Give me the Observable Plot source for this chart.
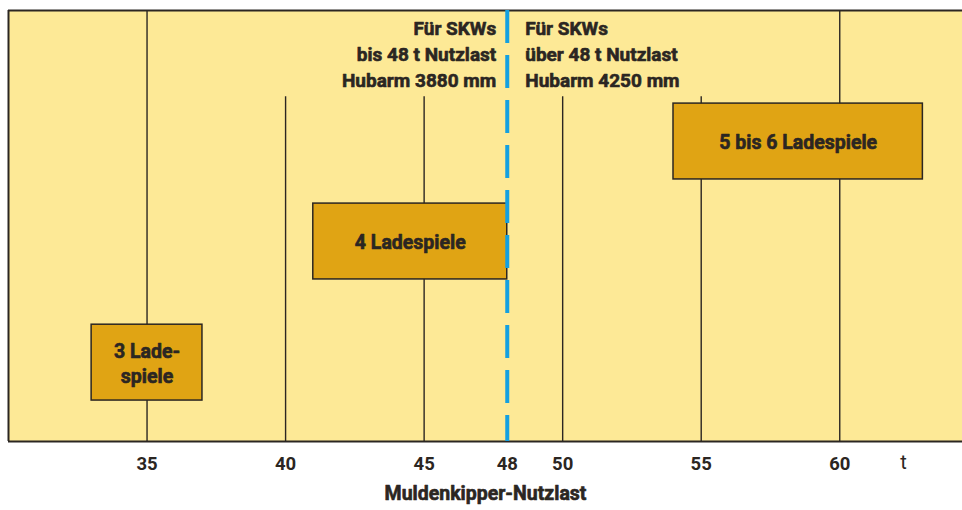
<!DOCTYPE html>
<html>
<head>
<meta charset="utf-8">
<script src="https://cdn.jsdelivr.net/npm/d3@7"></script>
<script src="https://cdn.jsdelivr.net/npm/@observablehq/plot@0.6"></script>
<style>
  html, body { margin: 0; padding: 0; background: #ffffff; }
  #chart svg { display: block; }
</style>
</head>
<body>
<div id="chart"></div>
<script>
// ---- data ----
const tickValues = [35, 40, 45, 48, 50, 55, 60];
const fullGridLines = [35, 60];
const shortGridLines = [40, 45, 50, 55];
const boxLabels = ["3 Lade-\nspiele", "4 Ladespiele", "5 bis 6 Ladespiele"];
const boxFrom = [33, 41, 54];
const boxTo = [37, 48, 63];
const boxLow = [9.5, 37.6, 60.8];
const boxHigh = [27.1, 55.2, 78.4];
const limit = 48;
const headerLeft = "Für SKWs\nbis 48 t Nutzlast\nHubarm 3880 mm";
const headerRight = "Für SKWs\nüber 48 t Nutzlast\nHubarm 4250 mm";
const unitLabel = "t";
const axisLabel = "Muldenkipper-Nutzlast";

const boxes = boxLabels.map((label, i) => ({
  label, x1: boxFrom[i], x2: boxTo[i], y1: boxLow[i], y2: boxHigh[i]
}));

const bg = "#fde996";
const boxFill = "#e0a414";
const ink = "#2b2622";
const blue = "#14a0e0";
const font = "Roboto, 'Liberation Sans', sans-serif";
const heavy = {fontWeight: "bold", fill: ink, stroke: ink, strokeWidth: 0.6};

const chart = Plot.plot({
  width: 962,
  height: 510,
  marginTop: 10,
  marginLeft: 8,
  marginRight: 0,
  marginBottom: 69,
  x: {domain: [30, 64.43]},
  y: {domain: [0, 100], axis: null},
  style: {fontFamily: font, background: "#ffffff", color: ink},
  marks: [
    Plot.frame({fill: bg, stroke: null}),
    Plot.ruleX(fullGridLines, {stroke: ink, strokeWidth: 1.4}),
    Plot.ruleX(shortGridLines, {y1: 0, y2: 80, stroke: ink, strokeWidth: 1.4}),
    Plot.rect(boxes, {x1: "x1", x2: "x2", y1: "y1", y2: "y2", fill: boxFill, stroke: ink, strokeWidth: 1.5}),
    Plot.text(boxes, {
      x: d => (d.x1 + d.x2) / 2, y: d => (d.y1 + d.y2) / 2,
      text: "label", fontSize: 19.5, lineHeight: 1.25, ...heavy
    }),
    Plot.ruleY([0], {stroke: ink, strokeWidth: 2}),
    Plot.ruleY([100], {stroke: ink, strokeWidth: 2}),
    Plot.ruleX([30], {stroke: ink, strokeWidth: 2}),
    Plot.ruleX([limit], {stroke: blue, strokeWidth: 4, strokeDasharray: "33,12"}),
    Plot.text([headerLeft], {
      x: limit, frameAnchor: "top", textAnchor: "end", lineAnchor: "top",
      dx: -11, dy: 6, fontSize: 19, lineHeight: 1.37, ...heavy
    }),
    Plot.text([headerRight], {
      x: limit, frameAnchor: "top", textAnchor: "start", lineAnchor: "top",
      dx: 18, dy: 6, fontSize: 19, lineHeight: 1.37, ...heavy
    }),
    Plot.axisX({
      ticks: tickValues, tickSize: 0, tickPadding: 15, label: null,
      tickFormat: d => String(d), fontSize: 18.5, ...heavy
    }),
    Plot.text([unitLabel], {
      x: 62.3, frameAnchor: "bottom", lineAnchor: "top", dy: 13,
      fontSize: 20, fill: ink
    }),
    Plot.text([axisLabel], {
      frameAnchor: "bottom", lineAnchor: "top", dy: 45,
      fontSize: 19.5, ...heavy
    })
  ]
});

document.getElementById("chart").appendChild(chart);
</script>
</body>
</html>
